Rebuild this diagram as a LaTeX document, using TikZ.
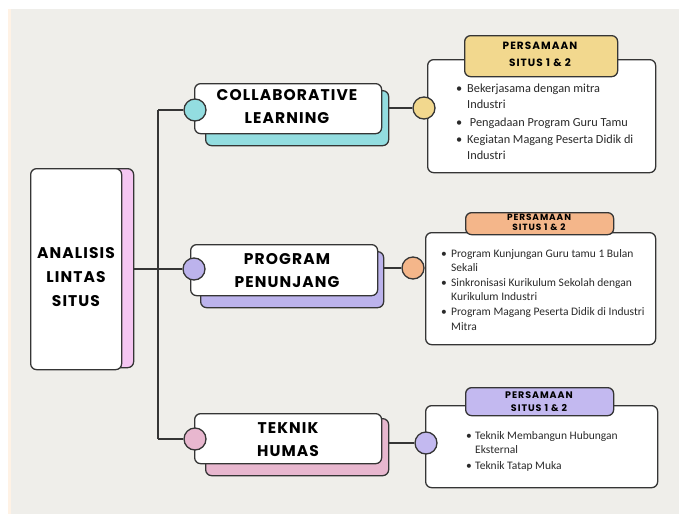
\documentclass[tikz,border=0pt]{standalone}
\usepackage{fontspec}
\setmainfont{Carlito}
\newfontfamily\headfont[LetterSpace=7]{Poppins}
\newfontfamily\tabfont[LetterSpace=10]{Poppins}
\definecolor{paper}{HTML}{EFEEEA}
\definecolor{ink}{HTML}{353535}
\definecolor{cteal}{HTML}{93DDE0}
\definecolor{clav}{HTML}{BCB3EC}
\definecolor{cpink}{HTML}{E8B7CF}
\definecolor{cmain}{HTML}{F5C6F2}
\definecolor{cyel}{HTML}{F2D88E}
\definecolor{corg}{HTML}{F4B68A}
\definecolor{clav2}{HTML}{C3B9F0}
\definecolor{txt}{HTML}{2A2A2A}
\begin{document}
\begin{tikzpicture}[x=1pt,y=-1pt,
  card/.style={draw=ink, line width=1.3pt, rounded corners=6pt, inner sep=0pt, anchor=north west},
  dot/.style={draw=ink, line width=1.3pt, circle, minimum size=22pt, inner sep=0pt},
  conn/.style={draw=ink, line width=1.1pt},
  headtxt/.style={font=\headfont\bfseries\fontsize{15.5}{23}\selectfont, align=center, text=black},
  tabtxt/.style={font=\tabfont\bfseries\fontsize{10.5}{17}\selectfont, align=center, text=black},
  listtxt/.style={anchor=north west, inner sep=0pt, align=left, text=txt}
]
\useasboundingbox (0,0) rectangle (679,514);
\fill[white] (0,0) rectangle (679,514);
\fill[paper] (8,9) rectangle (679,514);
\fill[orange!10] (8,9) rectangle (11,514);

% main
\node[card, fill=cmain, minimum width=93, minimum height=199] (mainb) at (40,168) {};
\node[card, fill=white, minimum width=91, minimum height=201] (mainf) at (30,168) {};
\node[headtxt] (maint) at (76,277) {ANALISIS\\[1pt]LINTAS\\[1pt]SITUS};

% branch cards
\node[card, fill=cteal, minimum width=183, minimum height=55] (collabb) at (205,90) {};
\node[card, fill=white, minimum width=187, minimum height=50] (collabf) at (194,83) {};
\node[headtxt] (collabt) at (287,107) {COLLABORATIVE\\LEARNING};

\node[card, fill=clav, minimum width=183, minimum height=56] (progb) at (200,251) {};
\node[card, fill=white, minimum width=187, minimum height=51] (progf) at (190,244) {};
\node[headtxt] (progt) at (287,271) {PROGRAM\\PENUNJANG};

\node[card, fill=cpink, minimum width=183, minimum height=57] (humb) at (205,418) {};
\node[card, fill=white, minimum width=187, minimum height=50] (humf) at (194,413) {};
\node[headtxt] (humt) at (288,440) {TEKNIK\\HUMAS};

% trunk
\coordinate (jt) at (158,110);
\coordinate (jn) at (158,269);
\coordinate (jb) at (158,439);
\draw[conn] (mainb.east |- jn) -- (jn);
\draw[conn] (jt) -- (jb);

\node[dot, fill=cteal] (l1) at (195,110) {};
\node[dot, fill=clav] (l2) at (194,269) {};
\node[dot, fill=cpink] (l3) at (195,439) {};
\draw[conn] (jt) -- (l1.west);
\draw[conn] (jn) -- (l2.west);
\draw[conn] (jb) -- (l3.west);

% right boxes
\node[card, fill=white, minimum width=228, minimum height=113] (box1) at (427,59) {};
\node[card, fill=white, minimum width=230, minimum height=112] (box2) at (425,232) {};
\node[card, fill=white, minimum width=232, minimum height=82] (box3) at (425,405) {};

\node[card, fill=cyel, minimum width=153, minimum height=41] (tab1) at (464,35) {};
\node[tabtxt] (tab1t) at (540,54) {PERSAMAAN\\SITUS 1 \& 2};
\node[card, fill=corg, minimum width=148, minimum height=22] (tab2) at (465,212) {};
\node[tabtxt, font=\tabfont\bfseries\fontsize{9}{10}\selectfont] (tab2t) at (539,222.5) {PERSAMAAN\\SITUS 1 \& 2};
\node[card, fill=clav2, minimum width=148, minimum height=28] (tab3) at (465,387) {};
\node[tabtxt, font=\tabfont\bfseries\fontsize{9.5}{13}\selectfont] (tab3t) at (539,401.5) {PERSAMAAN\\SITUS 1 \& 2};

\node[dot, fill=cyel] (r1) at (424,108) {};
\node[dot, fill=corg] (r2) at (413,268) {};
\node[dot, fill=clav2] (r3) at (426,443) {};
\draw[conn] (r1.west -| collabb.east) -- (r1.west);
\draw[conn] (r2.west -| progb.east) -- (r2.west);
\draw[conn] (r3.west -| humb.east) -- (r3.west);

% lists
\node[listtxt, font=\fontsize{12.3}{16}\selectfont] (list1) at (456,84) {%
\makebox[11pt][l]{\textbullet}Bekerjasama dengan mitra\\
\hspace*{11pt}Industri\\[1.5pt]
\makebox[11pt][l]{\textbullet}\ Pengadaan Program Guru Tamu\\[1.5pt]
\makebox[11pt][l]{\textbullet}Kegiatan Magang Peserta Didik di\\
\hspace*{11pt}Industri};
\node[listtxt, font=\fontsize{11.5}{14.6}\selectfont] (list2) at (441,249) {%
\makebox[10pt][l]{\textbullet}Program Kunjungan Guru tamu 1 Bulan\\
\hspace*{10pt}Sekali\\
\makebox[10pt][l]{\textbullet}Sinkronisasi Kurikulum Sekolah dengan\\
\hspace*{10pt}Kurikulum Industri\\
\makebox[10pt][l]{\textbullet}Program Magang Peserta Didik di Industri\\
\hspace*{10pt}Mitra};
\node[listtxt, font=\fontsize{11.5}{14.5}\selectfont] (list3) at (466,431) {%
\makebox[9pt][l]{\textbullet}Teknik Membangun Hubungan\\
\hspace*{9pt}Eksternal\\[1.5pt]
\makebox[9pt][l]{\textbullet}Teknik Tatap Muka};
\end{tikzpicture}
\end{document}
